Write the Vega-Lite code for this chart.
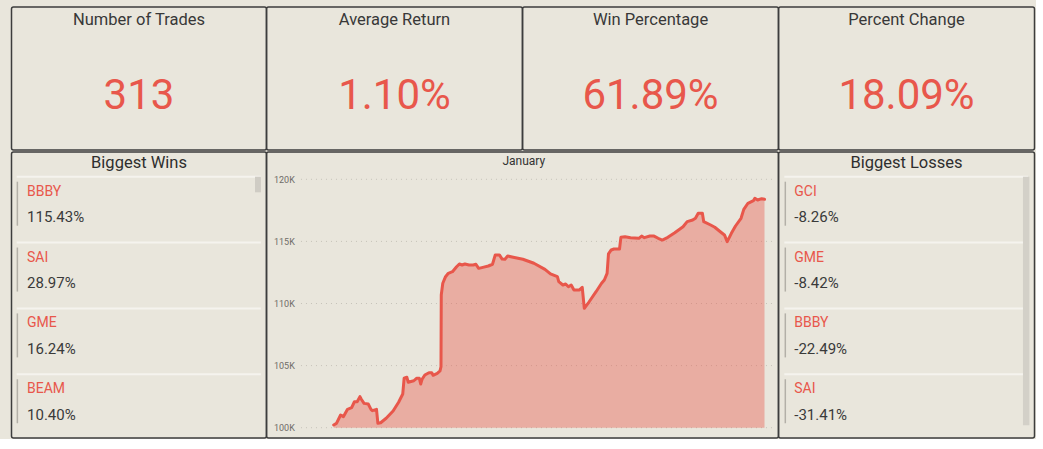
{
  "$schema": "https://vega.github.io/schema/vega-lite/v6.json",
  "background": "#E9E6DC",
  "padding": {"left": 10.5, "top": 6, "right": 0, "bottom": 0},
  "config": {
    "view": {"stroke": "#3d3d3d", "strokeWidth": 1.5, "fill": null, "cornerRadius": 2},
    "font": "Roboto",
    "scale": {"nice": false},
    "locale": {"number": {"decimal": ".", "thousands": ",", "grouping": [3], "currency": ["$", ""], "minus": "-"}}
  },
  "datasets": {
    "balance": [
      {"trade": 1, "balance": 100220}, {"trade": 3, "balance": 100350}, {"trade": 6, "balance": 101020},
      {"trade": 8, "balance": 100890}, {"trade": 11, "balance": 101480}, {"trade": 14, "balance": 101610},
      {"trade": 16, "balance": 102090}, {"trade": 18, "balance": 102090}, {"trade": 20, "balance": 102500},
      {"trade": 21, "balance": 102290}, {"trade": 23, "balance": 101960}, {"trade": 26, "balance": 101910},
      {"trade": 28, "balance": 101480}, {"trade": 29, "balance": 101370}, {"trade": 32, "balance": 101480},
      {"trade": 33, "balance": 100350}, {"trade": 35, "balance": 100400}, {"trade": 39, "balance": 100760},
      {"trade": 44, "balance": 101340}, {"trade": 48, "balance": 102050}, {"trade": 51, "balance": 102710},
      {"trade": 52, "balance": 103980}, {"trade": 54, "balance": 104060}, {"trade": 55, "balance": 103660},
      {"trade": 59, "balance": 103780}, {"trade": 61, "balance": 103980}, {"trade": 63, "balance": 103980},
      {"trade": 64, "balance": 103520}, {"trade": 65, "balance": 103900}, {"trade": 67, "balance": 104240},
      {"trade": 70, "balance": 104430}, {"trade": 72, "balance": 104430}, {"trade": 73, "balance": 104220},
      {"trade": 76, "balance": 104380}, {"trade": 78, "balance": 104570}, {"trade": 78.7, "balance": 104910},
      {"trade": 78.9, "balance": 110680}, {"trade": 80, "balance": 111630}, {"trade": 82, "balance": 112160},
      {"trade": 84, "balance": 112430}, {"trade": 87, "balance": 112560}, {"trade": 90, "balance": 112960},
      {"trade": 92, "balance": 113180}, {"trade": 94, "balance": 113100}, {"trade": 96, "balance": 113180},
      {"trade": 99, "balance": 113100}, {"trade": 102, "balance": 113100}, {"trade": 104, "balance": 113160},
      {"trade": 106, "balance": 112830}, {"trade": 109, "balance": 112910}, {"trade": 113, "balance": 113020},
      {"trade": 116, "balance": 113160}, {"trade": 118, "balance": 113910}, {"trade": 121, "balance": 113910},
      {"trade": 123, "balance": 113580}, {"trade": 125, "balance": 113560}, {"trade": 127, "balance": 113820},
      {"trade": 131, "balance": 113720}, {"trade": 138, "balance": 113560}, {"trade": 146, "balance": 113240},
      {"trade": 154, "balance": 112750}, {"trade": 158, "balance": 112380}, {"trade": 163, "balance": 112160},
      {"trade": 164, "balance": 111760}, {"trade": 167, "balance": 111490}, {"trade": 169, "balance": 111570},
      {"trade": 171, "balance": 111350}, {"trade": 173, "balance": 111490}, {"trade": 175, "balance": 111090},
      {"trade": 179, "balance": 111090}, {"trade": 181, "balance": 111300}, {"trade": 182.5, "balance": 109610},
      {"trade": 186, "balance": 110140}, {"trade": 191, "balance": 110950}, {"trade": 195, "balance": 111630},
      {"trade": 197, "balance": 111890}, {"trade": 199, "balance": 112430}, {"trade": 200, "balance": 113990},
      {"trade": 202, "balance": 114310}, {"trade": 204, "balance": 114390}, {"trade": 208, "balance": 114390},
      {"trade": 209, "balance": 115330}, {"trade": 212, "balance": 115380}, {"trade": 216, "balance": 115300},
      {"trade": 222, "balance": 115250}, {"trade": 224, "balance": 115430}, {"trade": 226, "balance": 115300},
      {"trade": 230, "balance": 115430}, {"trade": 233, "balance": 115430}, {"trade": 236, "balance": 115250},
      {"trade": 239, "balance": 115110}, {"trade": 243, "balance": 115330}, {"trade": 248, "balance": 115700},
      {"trade": 254, "balance": 116180}, {"trade": 257, "balance": 116590}, {"trade": 261, "balance": 116720},
      {"trade": 263, "balance": 116860}, {"trade": 265, "balance": 117260}, {"trade": 268, "balance": 117260},
      {"trade": 269, "balance": 116590}, {"trade": 274, "balance": 116320}, {"trade": 277, "balance": 116140},
      {"trade": 281, "balance": 115780}, {"trade": 284, "balance": 115520}, {"trade": 286, "balance": 114980},
      {"trade": 289, "balance": 115650}, {"trade": 292, "balance": 116240}, {"trade": 296, "balance": 116860},
      {"trade": 298, "balance": 117580}, {"trade": 301, "balance": 118070}, {"trade": 305, "balance": 118280},
      {"trade": 306, "balance": 118470}, {"trade": 308, "balance": 118330}, {"trade": 311, "balance": 118440},
      {"trade": 313, "balance": 118390}
    ]
  },
  "spacing": 0,
  "vconcat": [
    {
      "spacing": 0,
      "bounds": "flush",
      "hconcat": [
        {
          "width": 255, "height": 143,
          "data": {"values": [{"metric": "Number of Trades", "value": 313}]},
          "encoding": {
            "x": {"datum": 50, "type": "quantitative", "scale": {"domain": [0, 100]}, "axis": null},
            "y": {"datum": 50, "type": "quantitative", "scale": {"domain": [0, 100]}, "axis": null}
          },
          "layer": [
            {"mark": {"type": "text", "dy": -59, "fontSize": 16.5, "fill": "#383838", "baseline": "middle"}, "encoding": {"text": {"field": "metric"}}},
            {"mark": {"type": "text", "dy": 17.5, "fontSize": 42, "fill": "#E8574B", "baseline": "middle"}, "encoding": {"text": {"field": "value", "format": "d"}}}
          ]
        },
        {
          "width": 256, "height": 143,
          "data": {"values": [{"metric": "Average Return", "value": 0.011}]},
          "encoding": {
            "x": {"datum": 50, "type": "quantitative", "scale": {"domain": [0, 100]}, "axis": null},
            "y": {"datum": 50, "type": "quantitative", "scale": {"domain": [0, 100]}, "axis": null}
          },
          "layer": [
            {"mark": {"type": "text", "dy": -59, "fontSize": 16.5, "fill": "#383838", "baseline": "middle"}, "encoding": {"text": {"field": "metric"}}},
            {"mark": {"type": "text", "dy": 17.5, "fontSize": 42, "fill": "#E8574B", "baseline": "middle"}, "encoding": {"text": {"field": "value", "format": ".2%"}}}
          ]
        },
        {
          "width": 256, "height": 143,
          "data": {"values": [{"metric": "Win Percentage", "value": 0.6189}]},
          "encoding": {
            "x": {"datum": 50, "type": "quantitative", "scale": {"domain": [0, 100]}, "axis": null},
            "y": {"datum": 50, "type": "quantitative", "scale": {"domain": [0, 100]}, "axis": null}
          },
          "layer": [
            {"mark": {"type": "text", "dy": -59, "fontSize": 16.5, "fill": "#383838", "baseline": "middle"}, "encoding": {"text": {"field": "metric"}}},
            {"mark": {"type": "text", "dy": 17.5, "fontSize": 42, "fill": "#E8574B", "baseline": "middle"}, "encoding": {"text": {"field": "value", "format": ".2%"}}}
          ]
        },
        {
          "width": 256, "height": 143,
          "data": {"values": [{"metric": "Percent Change", "value": 0.1809}]},
          "encoding": {
            "x": {"datum": 50, "type": "quantitative", "scale": {"domain": [0, 100]}, "axis": null},
            "y": {"datum": 50, "type": "quantitative", "scale": {"domain": [0, 100]}, "axis": null}
          },
          "layer": [
            {"mark": {"type": "text", "dy": -59, "fontSize": 16.5, "fill": "#383838", "baseline": "middle"}, "encoding": {"text": {"field": "metric"}}},
            {"mark": {"type": "text", "dy": 17.5, "fontSize": 42, "fill": "#E8574B", "baseline": "middle"}, "encoding": {"text": {"field": "value", "format": ".2%"}}}
          ]
        }
      ]
    },
    {
      "spacing": 0,
      "bounds": "flush",
      "hconcat": [
        {
          "width": 255, "height": 286,
          "data": {"values": [
            {"rank": 1, "ticker": "BBBY", "ret": 1.1543},
            {"rank": 2, "ticker": "SAI", "ret": 0.2897},
            {"rank": 3, "ticker": "GME", "ret": 0.1624},
            {"rank": 4, "ticker": "BEAM", "ret": 0.1040}
          ]},
          "layer": [
            {"mark": {"type": "rule", "stroke": "#F5F3EE", "strokeWidth": 2},
             "encoding": {"y": {"field": "rank", "type": "quantitative", "scale": {"domain": [0.625, 4.968], "reverse": true, "nice": false}, "axis": null},
                          "x": {"datum": 2.04, "type": "quantitative", "scale": {"domain": [0, 100], "nice": false}, "axis": null}, "x2": {"datum": 97.8}}},
            {"mark": {"type": "rule", "stroke": "#B3B0A8", "strokeWidth": 1.5, "yOffset": 5, "y2Offset": 49},
             "encoding": {"y": {"field": "rank", "type": "quantitative", "axis": null}, "y2": {"field": "rank"},
                          "x": {"datum": 2.3, "type": "quantitative", "axis": null}}},
            {"mark": {"type": "text", "align": "left", "baseline": "middle", "dy": 15, "fontSize": 14, "fill": "#E8574B"},
             "encoding": {"y": {"field": "rank", "type": "quantitative", "axis": null}, "x": {"datum": 6.1, "type": "quantitative", "axis": null}, "text": {"field": "ticker"}}},
            {"mark": {"type": "text", "align": "left", "baseline": "middle", "dy": 40.5, "fontSize": 15, "fill": "#3A3A3A"},
             "encoding": {"y": {"field": "rank", "type": "quantitative", "axis": null}, "x": {"datum": 6.1, "type": "quantitative", "axis": null}, "text": {"field": "ret", "format": ".2%"}}},
            {"data": {"values": [{"title": "Biggest Wins"}]},
             "mark": {"type": "text", "fontSize": 16.5, "fill": "#2E2E2E", "baseline": "middle"},
             "encoding": {"y": {"datum": 0.792, "type": "quantitative", "axis": null}, "x": {"datum": 50, "type": "quantitative", "axis": null}, "text": {"field": "title"}}},
            {"data": {"values": [{"part": "scrollbar"}]},
             "mark": {"type": "rect", "fill": "#CFCCC4"},
             "encoding": {"x": {"datum": 95.5, "type": "quantitative", "axis": null}, "x2": {"datum": 97.8},
                          "y": {"datum": 1, "type": "quantitative", "axis": null}, "y2": {"datum": 1.237}}}
          ]
        },
        {
          "width": 512, "height": 286,
          "layer": [
            {"data": {"values": [{"level": 100000}, {"level": 105000}, {"level": 110000}, {"level": 115000}, {"level": 120000}]},
             "mark": {"type": "rule", "stroke": "#C5C2B9", "strokeDash": [1, 4], "strokeWidth": 1},
             "encoding": {
               "y": {"field": "level", "type": "quantitative", "scale": {"domain": [99171, 122198], "nice": false, "zero": false},
                     "axis": {"values": [100000, 105000, 110000, 115000, 120000], "labelExpr": "format(datum.value/1000, 'd') + 'K'",
                              "labelAlign": "left", "labelPadding": -7, "ticks": false, "tickSize": 0, "domain": false, "grid": false,
                              "title": null, "labelFontSize": 9, "labelColor": "#6F6D68", "labelFont": "Roboto"}},
               "x": {"datum": -22.7, "type": "quantitative", "scale": {"domain": [-47.67, 323.14], "nice": false, "zero": false}, "axis": null},
               "x2": {"datum": 319.9}}},
            {"data": {"name": "balance"},
             "mark": {"type": "area", "fill": "#E8574B", "opacity": 0.4},
             "encoding": {"x": {"field": "trade", "type": "quantitative"},
                          "y": {"field": "balance", "type": "quantitative"}, "y2": {"datum": 100000}}},
            {"data": {"name": "balance"},
             "mark": {"type": "line", "stroke": "#E8574B", "strokeWidth": 3, "strokeJoin": "round", "strokeCap": "round"},
             "encoding": {"x": {"field": "trade", "type": "quantitative"},
                          "y": {"field": "balance", "type": "quantitative"}}},
            {"data": {"values": [{"title": "January"}]},
             "mark": {"type": "text", "fontSize": 12, "fill": "#333333", "baseline": "middle"},
             "encoding": {"y": {"datum": 121470, "type": "quantitative"}, "x": {"datum": 138.7, "type": "quantitative"}, "text": {"field": "title"}}}
          ]
        },
        {
          "width": 256, "height": 286,
          "data": {"values": [
            {"rank": 1, "ticker": "GCI", "ret": -0.0826},
            {"rank": 2, "ticker": "GME", "ret": -0.0842},
            {"rank": 3, "ticker": "BBBY", "ret": -0.2249},
            {"rank": 4, "ticker": "SAI", "ret": -0.3141}
          ]},
          "layer": [
            {"mark": {"type": "rule", "stroke": "#F5F3EE", "strokeWidth": 2},
             "encoding": {"y": {"field": "rank", "type": "quantitative", "scale": {"domain": [0.625, 4.968], "reverse": true, "nice": false}, "axis": null},
                          "x": {"datum": 2.27, "type": "quantitative", "scale": {"domain": [0, 100], "nice": false}, "axis": null}, "x2": {"datum": 97.5}}},
            {"mark": {"type": "rule", "stroke": "#B3B0A8", "strokeWidth": 1.5, "yOffset": 5, "y2Offset": 49},
             "encoding": {"y": {"field": "rank", "type": "quantitative", "axis": null}, "y2": {"field": "rank"},
                          "x": {"datum": 2.66, "type": "quantitative", "axis": null}}},
            {"mark": {"type": "text", "align": "left", "baseline": "middle", "dy": 15, "fontSize": 14, "fill": "#E8574B"},
             "encoding": {"y": {"field": "rank", "type": "quantitative", "axis": null}, "x": {"datum": 6.17, "type": "quantitative", "axis": null}, "text": {"field": "ticker"}}},
            {"mark": {"type": "text", "align": "left", "baseline": "middle", "dy": 40.5, "fontSize": 15, "fill": "#3A3A3A"},
             "encoding": {"y": {"field": "rank", "type": "quantitative", "axis": null}, "x": {"datum": 6.17, "type": "quantitative", "axis": null}, "text": {"field": "ret", "format": ".2%"}}},
            {"data": {"values": [{"title": "Biggest Losses"}]},
             "mark": {"type": "text", "fontSize": 16.5, "fill": "#2E2E2E", "baseline": "middle"},
             "encoding": {"y": {"datum": 0.792, "type": "quantitative", "axis": null}, "x": {"datum": 50, "type": "quantitative", "axis": null}, "text": {"field": "title"}}},
            {"data": {"values": [{"part": "scrollbar"}]},
             "mark": {"type": "rect", "fill": "#D3D0C8"},
             "encoding": {"x": {"datum": 95.5, "type": "quantitative", "axis": null}, "x2": {"datum": 98.0},
                          "y": {"datum": 1, "type": "quantitative", "axis": null}, "y2": {"datum": 4.775}}}
          ]
        }
      ]
    }
  ]
}
